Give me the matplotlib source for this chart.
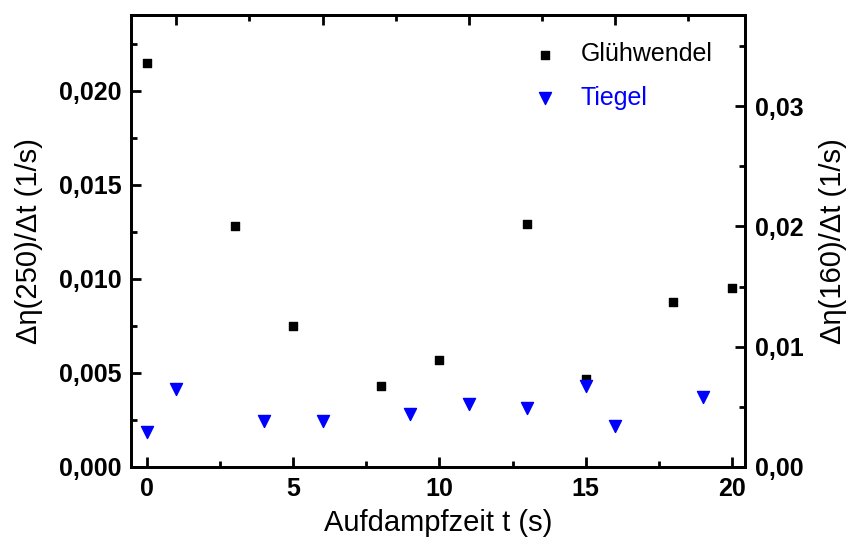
import matplotlib
matplotlib.use("Agg")
import matplotlib.pyplot as plt
from matplotlib.ticker import MultipleLocator, FuncFormatter

plt.rcParams['font.family'] = ['Liberation Sans', 'DejaVu Sans']

# Glühwendel (left axis)
t_gluehwendel = [0, 3, 5, 8, 10, 13, 15, 18, 20]
rate_gluehwendel = [0.0215, 0.0128, 0.0075, 0.0043, 0.0057, 0.0129, 0.0047, 0.0088, 0.0095]

# Tiegel (right axis)
t_tiegel = [0, 1, 4, 6, 9, 11, 13, 15, 16, 19]
rate_tiegel = [0.0029, 0.0065, 0.0038, 0.0038, 0.0044, 0.0052, 0.0049, 0.0067, 0.0034, 0.0058]


def comma(decimals):
    return FuncFormatter(lambda v, pos: f"{v:.{decimals}f}".replace('.', ','))


fig = plt.figure(figsize=(8.54, 5.46), dpi=100)
ax = fig.add_axes([0.1534, 0.1447, 0.7190, 0.8278])
ax2 = ax.twinx()

h1 = ax.scatter(t_gluehwendel, rate_gluehwendel, marker='s', s=40, color='black',
                label='Glühwendel', zorder=3)
h2 = ax2.scatter(t_tiegel, rate_tiegel, marker='v', s=75, color='blue',
                 label='Tiegel', zorder=3)

ax.set_xlim(-0.55, 20.45)
ax.set_ylim(0, 0.02404)
ax2.set_ylim(0, 0.03757)

ax.xaxis.set_major_locator(MultipleLocator(5))
ax.xaxis.set_minor_locator(MultipleLocator(2.5))
ax.yaxis.set_major_locator(MultipleLocator(0.005))
ax.yaxis.set_minor_locator(MultipleLocator(0.0025))
ax.yaxis.set_major_formatter(comma(3))
ax2.yaxis.set_major_locator(MultipleLocator(0.01))
ax2.yaxis.set_minor_locator(MultipleLocator(0.005))
ax2.yaxis.set_major_formatter(comma(2))

# top axis ticks (shifted by one unit, no labels)
top = ax.secondary_xaxis('top', functions=(lambda x: x - 1, lambda x: x + 1))
top.xaxis.set_major_locator(MultipleLocator(5))
top.xaxis.set_minor_locator(MultipleLocator(2.5))
top.tick_params(which='both', direction='in', labeltop=False, width=2)
top.tick_params(which='major', length=7)
top.tick_params(which='minor', length=4)
top.spines['top'].set_linewidth(2)

for a in (ax, ax2):
    a.tick_params(which='both', direction='in', width=2)
    a.tick_params(which='major', length=7, labelsize=18, pad=7)
    a.tick_params(which='minor', length=4)
    for sp in a.spines.values():
        sp.set_linewidth(2)
ax.tick_params(top=False)
for lbl in ax.get_xticklabels() + ax.get_yticklabels() + ax2.get_yticklabels():
    lbl.set_fontweight('bold')

ax.set_xlabel('Aufdampfzeit t (s)', fontsize=21, labelpad=6)
ax.set_ylabel('Δη(250)/Δt (1/s)', fontsize=21, labelpad=11)
ax2.set_ylabel('Δη(160)/Δt (1/s)', fontsize=21, labelpad=11)

leg = ax.legend(handles=[h1, h2], loc='upper left', frameon=False, fontsize=18,
                labelcolor=['black', 'blue'], handlelength=1.0, handletextpad=0.9,
                borderpad=0.4, borderaxespad=0, labelspacing=0.78, scatterpoints=1,
                bbox_to_anchor=(0.638, 0.962))

fig.savefig('out.png', dpi=100)
